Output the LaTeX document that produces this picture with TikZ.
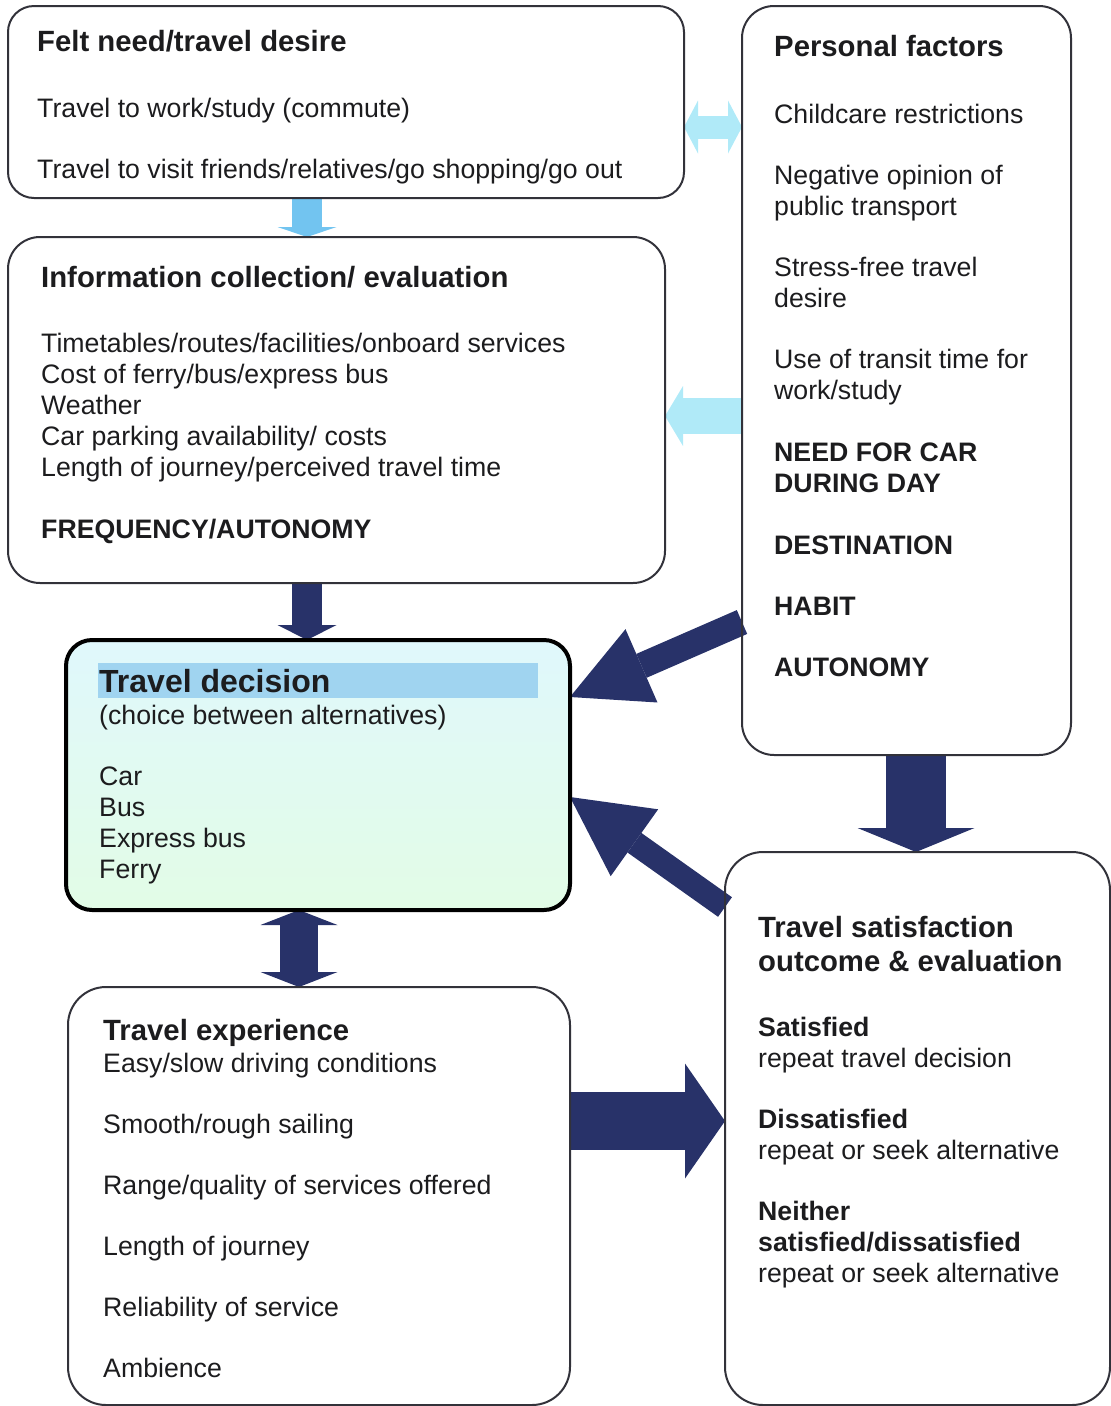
\documentclass[tikz,border=0pt]{standalone}
\usepackage{fontspec}
\setmainfont{Liberation Sans}
\usetikzlibrary{arrows.meta,positioning,calc,backgrounds}
\definecolor{navy}{RGB}{40,50,105}
\definecolor{edge}{RGB}{50,50,58}
\definecolor{ink}{RGB}{28,28,30}
\definecolor{paleblue}{RGB}{176,234,248}
\definecolor{midblue}{RGB}{114,196,240}
\definecolor{barblue}{RGB}{160,212,240}
\definecolor{dectop}{RGB}{224,248,252}
\definecolor{decbot}{RGB}{226,252,230}
\tikzset{
  box/.style={draw=edge,line width=2pt,rounded corners=32pt,outer sep=0pt,inner sep=0pt},
  head/.style={anchor=base west,inner sep=0pt,text=ink,align=left,font=\fontsize{29.3}{34}\selectfont\bfseries},
  body/.style={anchor=base west,inner sep=0pt,text=ink,align=left,font=\fontsize{26.7}{31}\selectfont},
  blk/.style={draw=navy,line width=#1},
  pale/.style={draw=#1},
}

\begin{document}
\begin{tikzpicture}[x=1pt,y=-1pt]
  \useasboundingbox (0,0) rectangle (1111,1406);

  % boxes
  \node [box,rounded corners=26pt,minimum width=676pt,minimum height=192pt] (felt) at (346,102) {};
  \node [box,minimum width=329pt,minimum height=749pt] (pf) at (906.5,380.5) {};
  \node [box,minimum width=657pt,minimum height=346pt] (info) at (336.5,410) {};
  \node [box,draw=black,line width=4pt,rounded corners=26pt,top color=dectop,bottom color=decbot,
         minimum width=504pt,minimum height=270pt] (dec) at (318,775) {};
  \node [box,rounded corners=38pt,minimum width=502pt,minimum height=418pt] (exp) at (319,1196) {};
  \node [box,rounded corners=38pt,minimum width=385pt,minimum height=553pt] (sat) at (917.5,1128.5) {};

  % texts (multi-line nodes sit on their last baseline)
  \node [head] at (37,51) {Felt need/travel desire};
  \node [body] at (37,178) {Travel to work/study (commute)\\[30pt]
    Travel to visit friends/relatives/go shopping/go out};

  \node [head] at (774,56) {Personal factors};
  \node [body] at (774,676) {Childcare restrictions\\[30pt]
    Negative opinion of\\ public transport\\[30pt]
    Stress-free travel\\ desire\\[30pt]
    Use of transit time for\\ work/study\\[31pt]
    \textbf{NEED FOR CAR}\\ \textbf{DURING DAY}\\[31pt]
    \textbf{DESTINATION}\\[30pt]
    \textbf{HABIT}\\[30pt]
    \textbf{AUTONOMY}};

  \node [head] at (41,287) {Information collection/ evaluation};
  \node [body] at (41,538) {Timetables/routes/facilities/onboard services\\
    Cost of ferry/bus/express bus\\ Weather\\
    Car parking availability/ costs\\
    Length of journey/perceived travel time\\[31pt]
    \textbf{FREQUENCY/AUTONOMY}};

  \fill [barblue] (98,663) rectangle (538,698);
  \node [head,font=\fontsize{32}{36}\selectfont\bfseries] at (99,692) {Travel decision};
  \node [body] at (99,878) {(choice between alternatives)\\[30pt]
    Car\\ Bus\\ Express bus\\ Ferry};

  \node [head] at (103,1040) {Travel experience};
  \node [body] at (103,1377) {Easy/slow driving conditions\\[30pt]
    Smooth/rough sailing\\[30pt]
    Range/quality of services offered\\[30pt]
    Length of journey\\[30pt]
    Reliability of service\\[30pt]
    Ambience};

  \node [head] at (758,971) {Travel satisfaction\\ outcome \& evaluation};
  \node [body] at (758,1282) {\textbf{Satisfied}\\ repeat travel decision\\[30pt]
    \textbf{Dissatisfied}\\ repeat or seek alternative\\[30pt]
    \textbf{Neither}\\ \textbf{satisfied/dissatisfied}\\ repeat or seek alternative};

  % arrows
  \begin{scope}[on background layer]
    \draw [pale=paleblue,line width=23pt,
      {Triangle[width=53pt,length=14pt,line width=0pt]}-{Triangle[width=53pt,length=14pt,line width=0pt]}]
      (felt.east |- 0,127) -- (pf.west |- 0,127);
    \draw [pale=midblue,line width=30pt,-{Triangle[width=59pt,length=10pt,line width=0pt]}]
      (felt.south -| 307,0) -- (info.north -| 307,0);
    \draw [pale=paleblue,line width=36pt,-{Triangle[width=60pt,length=18pt,line width=0pt]}]
      (pf.west |- 0,416) -- (info.east |- 0,416);
    \draw [blk=30pt,-{Triangle[width=59pt,length=15pt,line width=0pt]}]
      (info.south -| 307,0) -- (dec.north -| 307,0);
    \draw [blk=26pt,-{Triangle[width=80pt,length=78pt,line width=0pt]}]
      (pf.west |- 0,622) -- (dec.east |- 0,697);
    \draw [blk=24pt,-{Triangle[width=82pt,length=79pt,line width=0pt]}]
      (sat.west |- 0,907) -- (dec.east |- 0,797);
    \draw [blk=60pt,-{Triangle[width=117pt,length=24pt,line width=0pt]}]
      (pf.south -| 916,0) -- (sat.north -| 916,0);
    \draw [blk=38pt,
      {Triangle[width=77pt,length=15pt,line width=0pt]}-{Triangle[width=77pt,length=15pt,line width=0pt]}]
      (dec.south -| 299,0) -- (exp.north -| 299,0);
    \draw [blk=58pt,-{Triangle[width=115pt,length=40pt,line width=0pt]}]
      (exp.east |- 0,1121) -- (sat.west |- 0,1121);
  \end{scope}
\end{tikzpicture}
\end{document}
